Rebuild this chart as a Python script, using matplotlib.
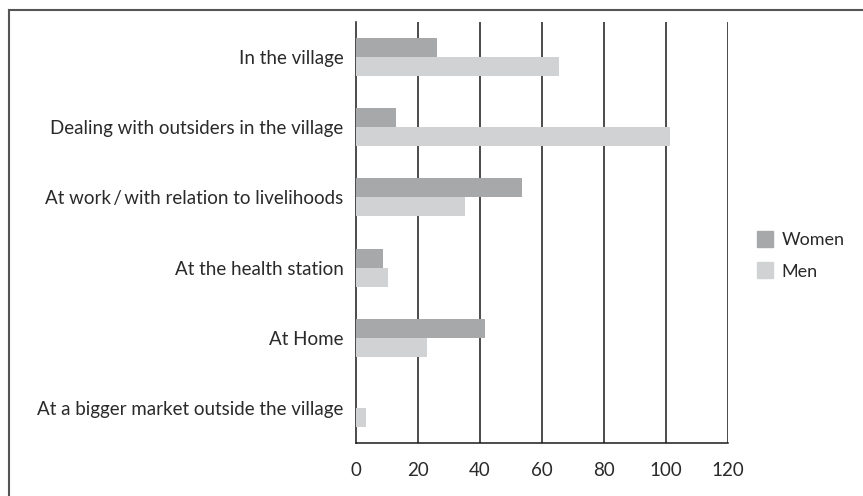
import numpy as np
import matplotlib.pyplot as plt
from matplotlib.lines import Line2D

categories = [
    'In the village',
    'Dealing with outsiders in the village',
    'At work\u2009/\u2009with relation to livelihoods',
    'At the health station',
    'At Home',
    'At a bigger market outside the village',
]
women = [26, 13, 53.5, 8.7, 41.5, 0]
men = [65.5, 101.3, 35.2, 10.3, 22.9, 3.2]
xticks = [0, 20, 40, 60, 80, 100, 120]

women_color = '#a7a8aa'
men_color = '#d1d2d3'
text_color = '#2a2a2a'

plt.rcParams['font.family'] = ['Lato', 'DejaVu Sans']

fig = plt.figure(figsize=(8.63, 4.96), dpi=100)
ax = fig.add_axes([356 / 863, 53 / 496, 372 / 863, 421 / 496])

y = np.arange(len(categories))
h = 0.27
ax.barh(y - h / 2, women, height=h, color=women_color, label='Women', zorder=3)
ax.barh(y + h / 2, men, height=h, color=men_color, label='Men', zorder=3)

ax.set_xlim(0, 120)
ax.set_ylim(len(categories) - 0.5, -0.5)
ax.set_xticks(xticks)
ax.set_yticks(y)
ax.set_yticklabels(categories)
ax.tick_params(length=0, labelsize=13.5, colors=text_color)
ax.tick_params(axis='y', pad=9)
ax.tick_params(axis='x', pad=14)

# вертикальные линии сетки
for xv in xticks[1:]:
    ax.axvline(xv, color='#1a1a1a', lw=1.1, zorder=2)

for s in ['top', 'right']:
    ax.spines[s].set_visible(False)
for s in ['left', 'bottom']:
    ax.spines[s].set_color('#1a1a1a')
    ax.spines[s].set_linewidth(1.1)

handles = [
    Line2D([], [], marker='s', ls='', markersize=11, color=women_color),
    Line2D([], [], marker='s', ls='', markersize=11, color=men_color),
]
fig.legend(handles, ['Women', 'Men'], loc='center left',
           bbox_to_anchor=(738 / 863, 1 - 256 / 496), frameon=False,
           fontsize=13, labelcolor=text_color, handletextpad=0.3,
           labelspacing=0.85, handlelength=1.2)

# рамка вокруг рисунка (видны только верх и левый край)
fig.add_artist(Line2D([9 / 863, 9 / 863], [0, 1 - 10 / 496],
                      transform=fig.transFigure, color='#555555', lw=1.5))
fig.add_artist(Line2D([9 / 863, 1], [1 - 10 / 496, 1 - 10 / 496],
                      transform=fig.transFigure, color='#555555', lw=1.5))

fig.savefig('out.png', dpi=100)
